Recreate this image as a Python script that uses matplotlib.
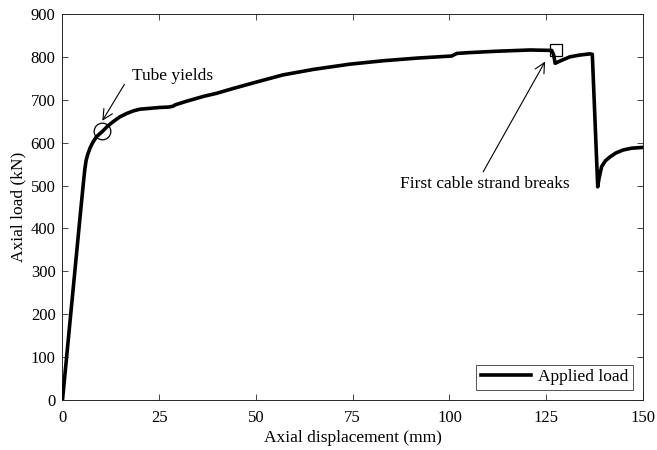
import matplotlib
matplotlib.use("Agg")
import matplotlib.pyplot as plt

plt.rcParams['font.family'] = ['Liberation Serif', 'DejaVu Serif']

# load-displacement record (mm, kN)
disp = [0, 1.5, 3.0, 4.5, 5.5, 5.8, 6.1, 6.5, 7.1, 7.8, 8.8, 10.3, 11.6,
        13.1, 14.8, 16.6, 18.3, 20.0, 22.6, 25.2, 27.5, 28.6, 29.1, 31.5,
        33.8, 36.5, 39.8, 44.0, 50.0, 57.0, 65.0, 74.3, 83.0, 91.5, 97.0,
        100.6, 101.0, 101.9, 105.3, 112.0, 120.8, 126.4, 126.9, 127.3, 129.0,
        131.1, 133.5, 136.3, 136.9, 138.3, 138.6, 139.3, 140.3, 141.5, 143.0,
        144.9, 147.0, 150.0]
load = [0, 141, 282, 423, 515, 540, 558, 572, 587, 600, 614, 626, 638,
        649, 660, 668, 674, 678, 680, 682, 683, 685, 688, 695,
        701, 708, 715, 726, 741, 758, 771, 783, 791, 797, 800,
        802, 804, 808, 810, 813, 816, 815, 805, 785, 792,
        800, 804, 807, 806, 497, 515, 544, 558, 567, 576,
        583, 587, 589]

yield_pt = (10.3, 626)
break_pt = (127.4, 817)

fig = plt.figure(figsize=(6.57, 4.5), dpi=100)
ax = fig.add_axes([0.0951, 0.111, 0.8836, 0.858])

ax.plot(disp, load, color='black', lw=2.6, label='Applied load', zorder=3,
        solid_joinstyle='round')
ax.plot(*yield_pt, marker='o', ms=12, mfc='none', mec='black', mew=0.9, zorder=4)
ax.plot(*break_pt, marker='s', ms=9, mfc='none', mec='black', mew=0.9, zorder=4)

arrow = dict(arrowstyle='->', lw=0.8, color='black', shrinkA=0, shrinkB=0,
             mutation_scale=18)
ax.annotate('', xy=(10.3, 651), xytext=(16.0, 736), arrowprops=arrow)
ax.text(17.9, 756, 'Tube yields', fontsize=12.5, va='center', ha='left')
ax.annotate('', xy=(124.7, 789), xytext=(108.7, 532), arrowprops=arrow)
ax.text(87.2, 503, 'First cable strand breaks', fontsize=12.5,
        va='center', ha='left')

ax.set_xlim(0, 150)
ax.set_ylim(0, 900)
ax.set_xticks([0, 25, 50, 75, 100, 125, 150])
ax.set_yticks(range(0, 901, 100))
ax.tick_params(direction='in', top=True, right=True, length=4.5, width=0.6,
               labelsize=12, colors='#262626', pad=5)
ax.tick_params(axis='x', pad=7)
ax.tick_params(labelcolor='black')
for s in ax.spines.values():
    s.set_linewidth(0.7)
    s.set_color('#262626')

ax.set_xlabel('Axial displacement (mm)', fontsize=12.5, labelpad=3)
ax.set_ylabel('Axial load (kN)', fontsize=12.5, labelpad=3)

leg = ax.legend(loc='lower right', fontsize=12.5, frameon=True, fancybox=False,
                handlelength=2.9, borderaxespad=0.6, borderpad=0.25,
                handletextpad=0.4)
leg.get_frame().set_edgecolor('#262626')
leg.get_frame().set_linewidth(0.7)

fig.savefig('out.png', dpi=100)
